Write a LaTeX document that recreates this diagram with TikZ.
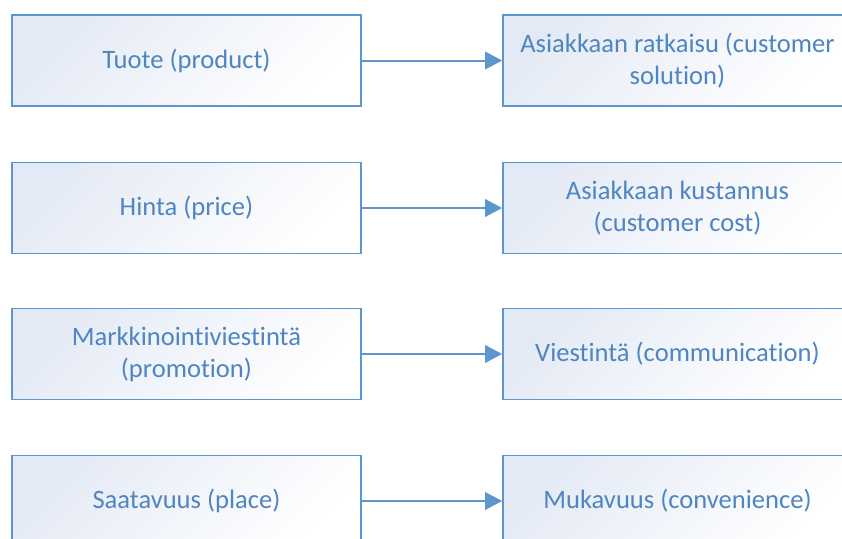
\documentclass[tikz,border=0pt]{standalone}
\usepackage{fontspec}
\setmainfont{Carlito}[Ligatures={NoCommon}]
\usepackage{xcolor}
\usepackage{tikz}
\usetikzlibrary{arrows.meta,positioning}
\definecolor{boxline}{RGB}{91,150,205}
\definecolor{boxtext}{RGB}{79,133,192}
\definecolor{boxfill}{RGB}{228,234,245}
\tikzset{
  mixbox/.style={draw=boxline, line width=1.3pt, left color=boxfill, right color=white,
    shading angle=45, minimum width=9.23cm, minimum height=2.41cm, align=center,
    text=boxtext, font=\fontsize{20}{24}\selectfont},
  flow/.style={-{Triangle[length=4.5mm, width=4.6mm]}, line width=1.5pt, boxline}
}

\begin{document}
\begin{tikzpicture}
  \useasboundingbox (0,0) rectangle (22.278,-14.261);

  \node[mixbox] (product) at (4.934, -1.601) {Tuote (product)};
  \node[mixbox] (price) at (4.934, -5.503) {Hinta (price)};
  \node[mixbox] (promotion) at (4.934, -9.366) {Markkinointiviestintä\\(promotion)};
  \node[mixbox] (place) at (4.934, -13.256) {Saatavuus (place)};

  \node[mixbox] (solution) at (17.925, -1.601) {Asiakkaan ratkaisu (customer\\solution)};
  \node[mixbox] (cost) at (17.925, -5.503) {Asiakkaan kustannus\\(customer cost)};
  \node[mixbox] (communication) at (17.925, -9.366) {Viestintä (communication)};
  \node[mixbox] (convenience) at (17.925, -13.256) {Mukavuus (convenience)};

  \draw[flow] (product) -- (solution);
  \draw[flow] (price) -- (cost);
  \draw[flow] (promotion) -- (communication);
  \draw[flow] (place) -- (convenience);
\end{tikzpicture}
\end{document}
